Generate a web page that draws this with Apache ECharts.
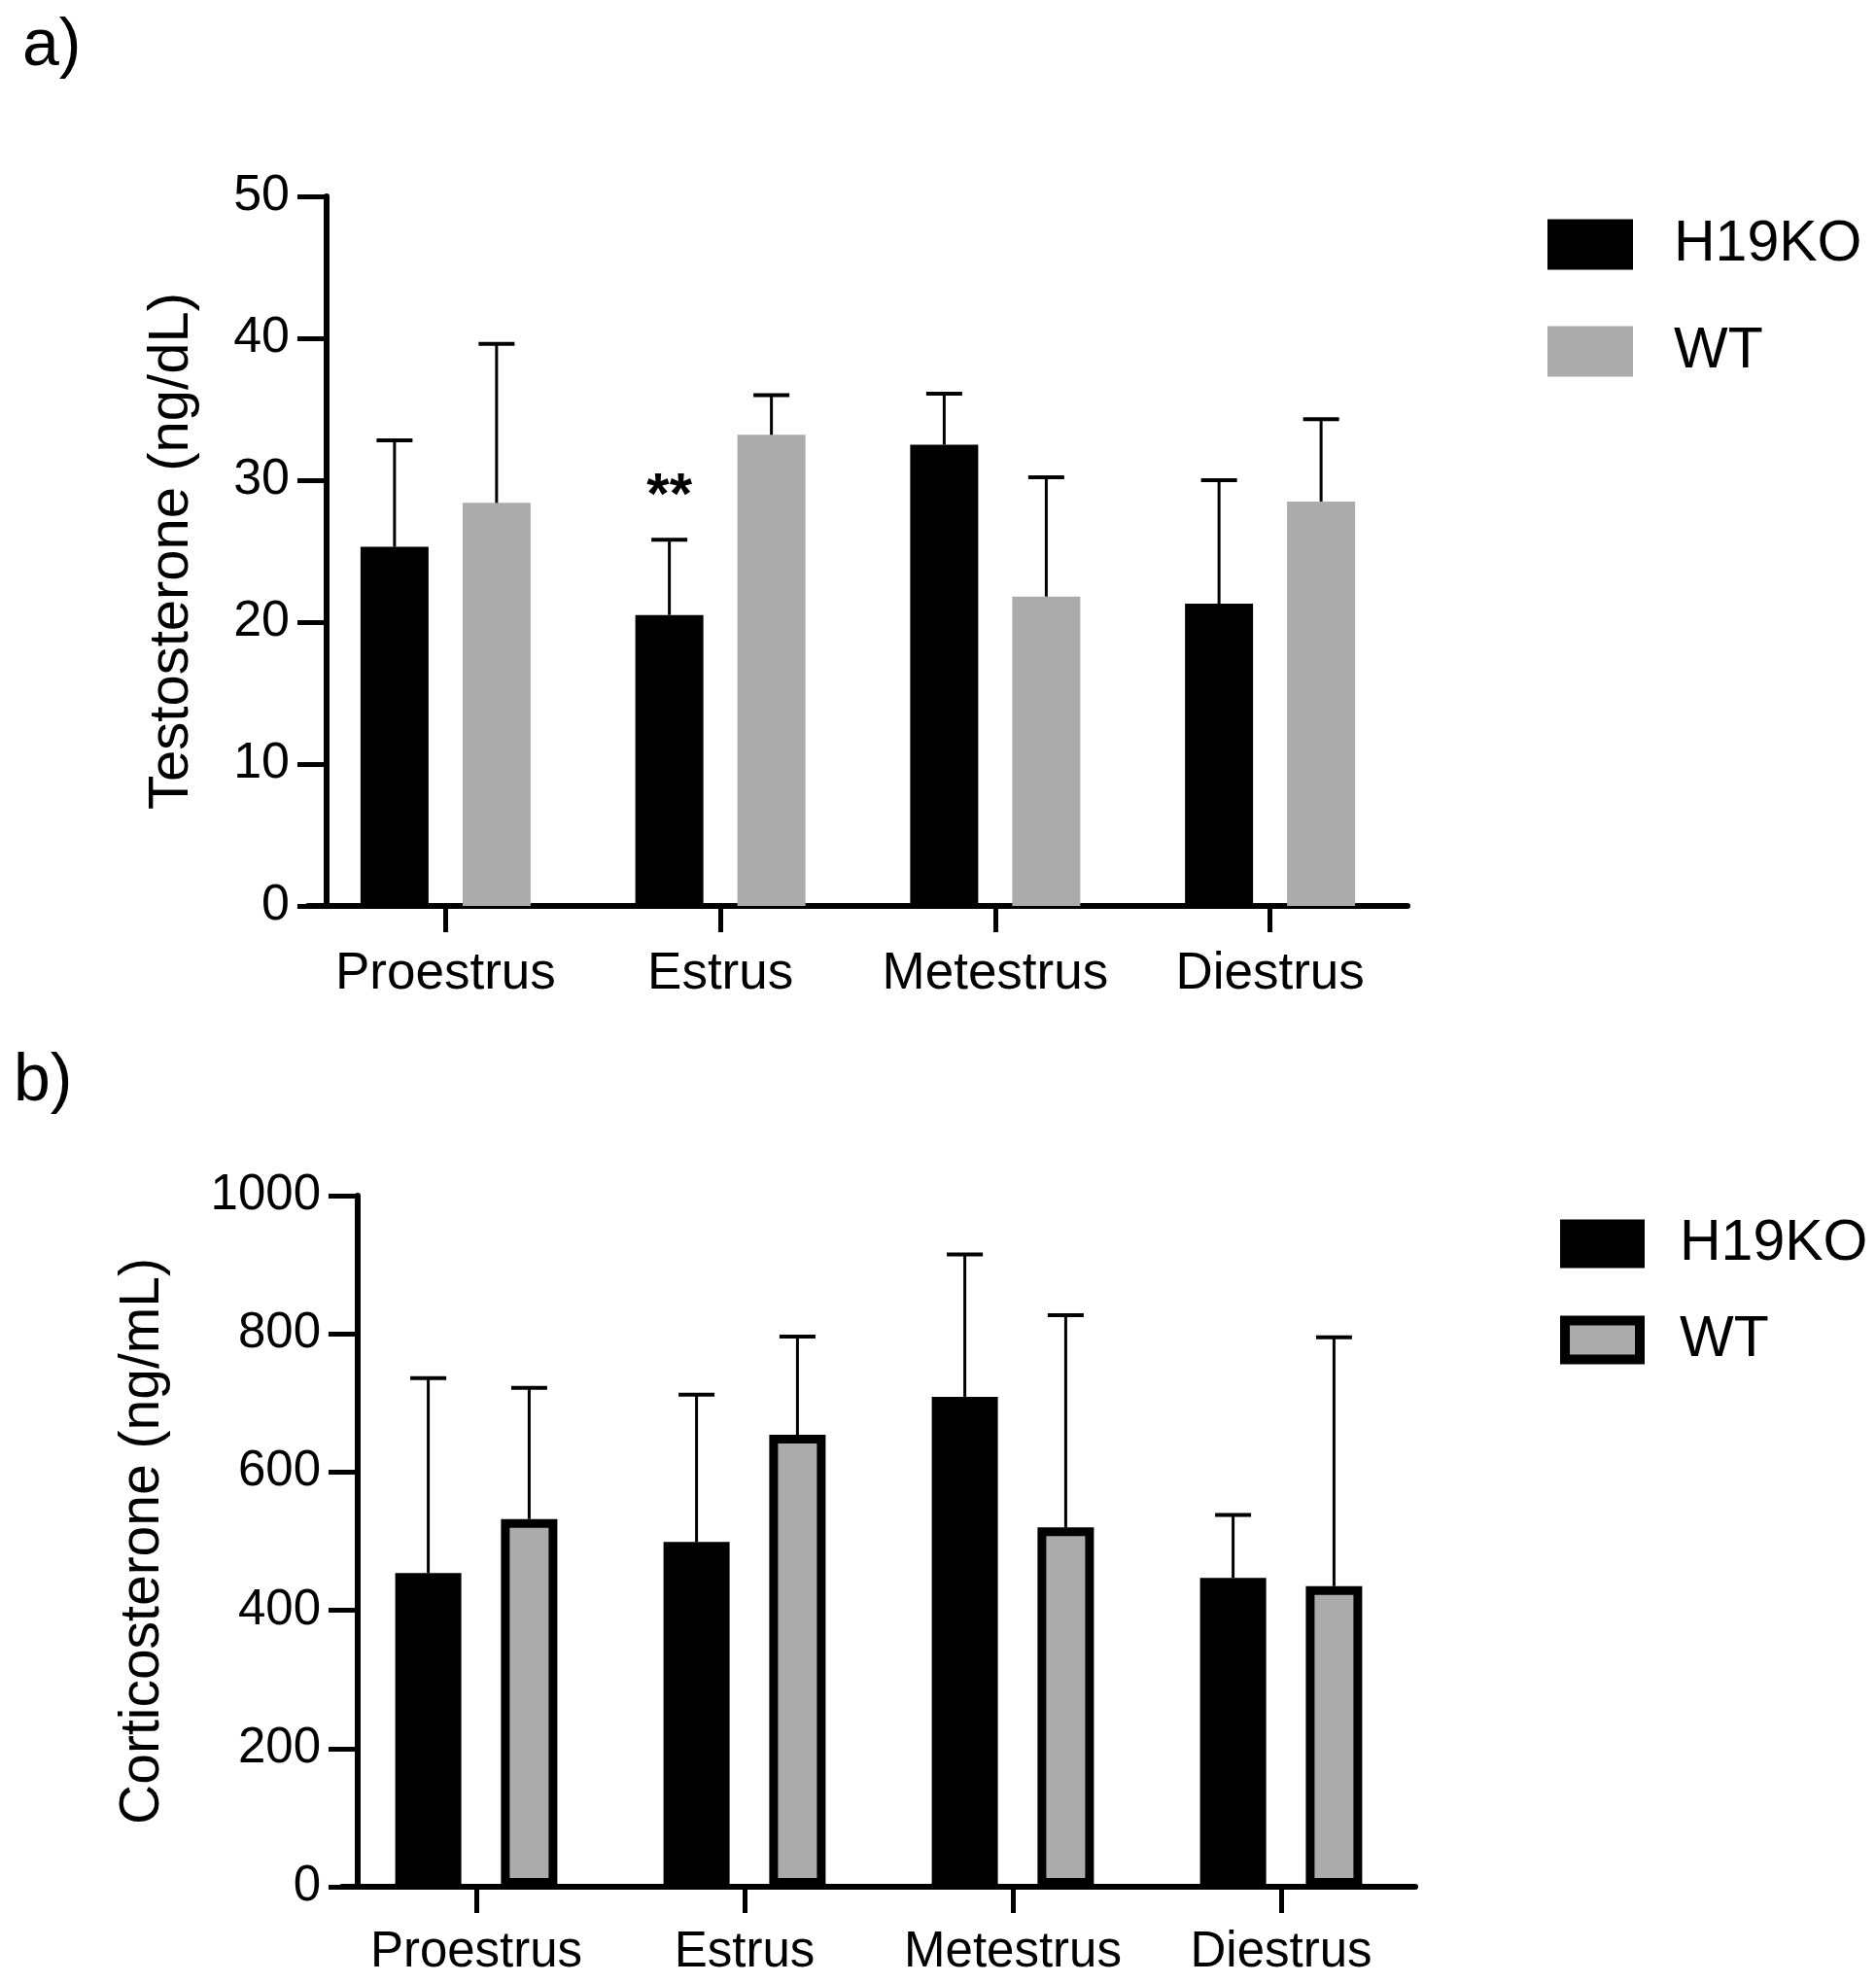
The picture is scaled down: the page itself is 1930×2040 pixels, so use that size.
<!DOCTYPE html>
<html><head><meta charset="utf-8">
<script src="https://cdn.jsdelivr.net/npm/echarts@6/dist/echarts.min.js"></script>
<style>html,body{margin:0;padding:0;background:#fff}#c{width:1930px;height:2040px}</style>
</head><body><div id="c"></div>
<script>
// ---- data ----
const categories = ['Proestrus', 'Estrus', 'Metestrus', 'Diestrus'];
const seriesNames = ['H19KO', 'WT'];

const testoH19KO = [25.3, 20.5, 32.5, 21.3];
const testoH19KOErr = [7.5, 5.3, 3.6, 8.7];
const testoWT = [28.4, 33.2, 21.8, 28.5];
const testoWTErr = [11.2, 2.8, 8.4, 5.8];
const testoSig = ['', '**', '', ''];
const testoAxis = { min: 0, max: 50, interval: 10 };

const corticoH19KO = [454, 499, 709, 447];
const corticoH19KOErr = [282, 213, 206, 91];
const corticoWT = [532, 654, 520, 435];
const corticoWTErr = [190, 142, 307, 360];
const corticoAxis = { min: 0, max: 1000, interval: 200 };

const panelLabels = ['a)', 'b)'];
const axisTitles = ['Testosterone (ng/dL)', 'Corticosterone (ng/mL)'];

// ---- style ----
const FONT = 'Liberation Sans, Arial, Helvetica, sans-serif';
const BLACK = '#000000';
const GREY = '#ababab';

// replicate ECharts bar offset layout for fixed widths
function barCenters(widths, gap) {
  let sum = 0;
  widths.forEach(w => { sum += w * (1 + gap); });
  sum -= widths[widths.length - 1] * gap;
  let off = -sum / 2;
  return widths.map(w => { const c = off + w / 2; off += w * (1 + gap); return c; });
}

const A = { widths: [70, 70], gap: 0.5 };
const B = { widths: [68, 58], gap: 0.6 };
const offA = barCenters(A.widths, A.gap);
const offB = barCenters(B.widths, B.gap);

function errSeries(gi, means, errs, offset, sig) {
  return {
    type: 'custom', xAxisIndex: gi, yAxisIndex: gi, z: 10, silent: true,
    data: means.map((m, i) => [i, m, m + errs[i]]),
    encode: { x: 0, y: [1, 2] },
    renderItem(params, api) {
      const i = api.value(0);
      const p0 = api.coord([i, api.value(1)]);
      const p1 = api.coord([i, api.value(2)]);
      const x = p0[0] + offset;
      const children = [
        { type: 'line', shape: { x1: x, y1: p0[1], x2: x, y2: p1[1] }, style: { stroke: BLACK, lineWidth: 3 } },
        { type: 'line', shape: { x1: x - 18.5, y1: p1[1], x2: x + 18.5, y2: p1[1] }, style: { stroke: BLACK, lineWidth: 4 } }
      ];
      const s = sig ? sig[params.dataIndex] : '';
      if (s) {
        children.push({ type: 'text', x: x, y: p1[1] - 44, style: { text: s, fill: BLACK, font: 'bold 60px ' + FONT, align: 'center', verticalAlign: 'middle' } });
      }
      return { type: 'group', children };
    }
  };
}

function xAxisCfg(gi, fs, margin) {
  return {
    type: 'category', gridIndex: gi, data: categories, boundaryGap: true,
    axisLine: { show: true, lineStyle: { color: BLACK, width: 6 } },
    axisTick: { show: true, alignWithLabel: true, interval: 0, length: 27, lineStyle: { color: BLACK, width: 5 } },
    axisLabel: { color: BLACK, fontSize: fs, fontFamily: FONT, margin: margin, interval: 0, hideOverlap: false },
    splitLine: { show: false }
  };
}
function yAxisCfg(gi, ax, name, offset, gap, fs, nfs) {
  return {
    type: 'value', gridIndex: gi, min: ax.min, max: ax.max, interval: ax.interval, offset: offset,
    name: name, nameLocation: 'middle', nameGap: gap, nameRotate: 90,
    nameTextStyle: { color: BLACK, fontSize: nfs, fontFamily: FONT },
    axisLine: { show: true, onZero: false, lineStyle: { color: BLACK, width: 6 } },
    axisTick: { show: true, length: 30, lineStyle: { color: BLACK, width: 5 } },
    axisLabel: { color: BLACK, fontSize: fs, fontFamily: FONT, margin: 38, formatter: v => String(v) },
    splitLine: { show: false }
  };
}

const option = {
  backgroundColor: '#ffffff',
  animation: false,
  title: [
    { text: panelLabels[0], left: 18, top: 9, textStyle: { fontSize: 68, fontWeight: 'normal', color: BLACK, fontFamily: FONT } },
    { text: panelLabels[1], left: 9, top: 1074, textStyle: { fontSize: 68, fontWeight: 'normal', color: BLACK, fontFamily: FONT } }
  ],
  grid: [
    { left: 317, top: 202, width: 1131, height: 730, outerBoundsMode: 'none', containLabel: false },
    { left: 352, top: 1230, width: 1104, height: 711, outerBoundsMode: 'none', containLabel: false }
  ],
  legend: [
    {
      orient: 'vertical', left: 1592, top: 222, itemWidth: 88, itemHeight: 52, itemGap: 51, icon: 'rect',
      selectedMode: false, padding: 0,
      textStyle: { fontSize: 59, color: BLACK, fontFamily: FONT, padding: [0, 0, 0, 37] },
      data: [
        { name: seriesNames[0], itemStyle: { color: BLACK, borderWidth: 0 } },
        { name: seriesNames[1], itemStyle: { color: GREY, borderWidth: 0 } }
      ]
    },
    {
      orient: 'vertical', left: 1605, top: 1250, itemWidth: 77, itemHeight: 40, itemGap: 40, icon: 'rect',
      selectedMode: false, padding: 0,
      textStyle: { fontSize: 59, color: BLACK, fontFamily: FONT, padding: [0, 0, 0, 36] },
      data: [
        { name: seriesNames[0], itemStyle: { color: BLACK, borderColor: BLACK, borderWidth: 10 } },
        { name: seriesNames[1], itemStyle: { color: GREY, borderColor: BLACK, borderWidth: 10 } }
      ]
    }
  ],
  xAxis: [xAxisCfg(0, 53, 44), xAxisCfg(1, 51, 42)],
  yAxis: [
    yAxisCfg(0, testoAxis, axisTitles[0], -19, 130, 52, 58),
    yAxisCfg(1, corticoAxis, axisTitles[1], -16, 192, 51, 57)
  ],
  series: [
    { name: seriesNames[0], type: 'bar', xAxisIndex: 0, yAxisIndex: 0, data: testoH19KO, barWidth: A.widths[0], barGap: (A.gap * 100) + '%', itemStyle: { color: BLACK } },
    { name: seriesNames[1], type: 'bar', xAxisIndex: 0, yAxisIndex: 0, data: testoWT, barWidth: A.widths[1], barGap: (A.gap * 100) + '%', itemStyle: { color: GREY } },
    errSeries(0, testoH19KO, testoH19KOErr, offA[0], testoSig),
    errSeries(0, testoWT, testoWTErr, offA[1], null),
    { name: seriesNames[0], type: 'bar', xAxisIndex: 1, yAxisIndex: 1, data: corticoH19KO, barWidth: B.widths[0], barGap: (B.gap * 100) + '%', itemStyle: { color: BLACK } },
    { name: seriesNames[1], type: 'bar', xAxisIndex: 1, yAxisIndex: 1, data: corticoWT, barWidth: B.widths[1], barGap: (B.gap * 100) + '%', itemStyle: { color: GREY, borderColor: BLACK, borderWidth: 9 } },
    errSeries(1, corticoH19KO, corticoH19KOErr, offB[0], null),
    errSeries(1, corticoWT, corticoWTErr, offB[1], null)
  ]
};

const chart = echarts.init(document.getElementById('c'), null, { renderer: 'canvas' });
chart.setOption(option);
</script>
</body></html>
